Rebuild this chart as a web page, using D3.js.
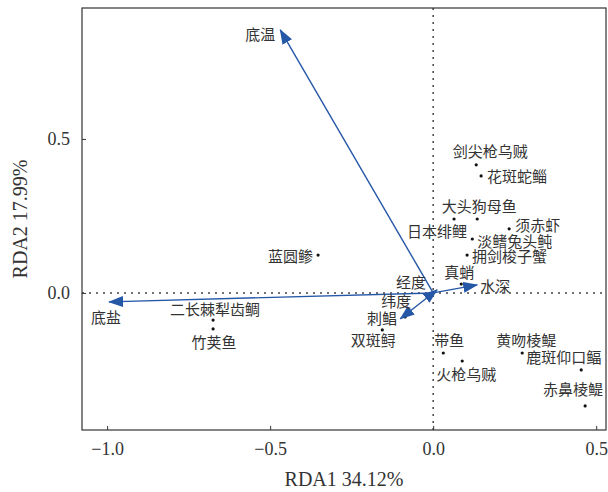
<!DOCTYPE html>
<html>
<head>
<meta charset="utf-8">
<script src="https://cdn.jsdelivr.net/npm/d3@7"></script>
<style>
  body { margin: 0; background: #fff; }
  text { font-family: "Liberation Serif", "Noto Sans CJK SC", serif; }
</style>
</head>
<body>
<svg id="chart" width="608" height="492"></svg>
<script>
// environmental variables (arrows)
const envNames = ["底温", "底盐", "水深", "经度", "纬度"];
const envX = [-0.469, -0.994, 0.135, 0.012, -0.101];
const envY = [0.854, -0.029, 0.026, 0.010, -0.084];

// species scores (points)
const spNames = ["剑尖枪乌贼", "花斑蛇鲻", "大头狗母鱼", "日本绯鲤", "须赤虾", "淡鳍兔头鲀",
  "拥剑梭子蟹", "真蛸", "蓝圆鲹", "二长棘犁齿鲷", "竹荚鱼", "刺鲳", "双斑鲟",
  "带鱼", "火枪乌贼", "黄吻棱鳀", "鹿斑仰口鲾", "赤鼻棱鳀"];
const spX = [0.132, 0.147, 0.135, 0.064, 0.233, 0.120, 0.104, 0.086, -0.353, -0.675,
  -0.675, -0.086, -0.156, 0.031, 0.089, 0.273, 0.454, 0.466];
const spY = [0.416, 0.380, 0.240, 0.240, 0.208, 0.175, 0.123, 0.029, 0.123, -0.088,
  -0.117, -0.078, -0.120, -0.195, -0.221, -0.195, -0.250, -0.367];

const xTicks = [-1.0, -0.5, 0.0, 0.5];
const yTicks = [0.0, 0.5];

// label placement: [dx, dy, anchor]
const envLabel = {
  "底温": [-5, 5, "end"], "底盐": [-3, 16, "middle"], "水深": [3, 2, "start"],
  "经度": [-11, -7, "end"], "纬度": [-4, -17, "middle"]
};
const spLabel = {
  "剑尖枪乌贼": [14, -13, "middle"], "花斑蛇鲻": [6, 1, "start"], "大头狗母鱼": [2, -12, "middle"],
  "日本绯鲤": [13, 13, "end"], "须赤虾": [6, -3, "start"], "淡鳍兔头鲀": [5, 3, "start"],
  "拥剑梭子蟹": [5, 2, "start"], "真蛸": [-2, -11, "middle"], "蓝圆鲹": [-5, 2, "end"],
  "二长棘犁齿鲷": [2, -10, "middle"], "竹荚鱼": [1, 14, "middle"], "刺鲳": [-8, 2, "end"],
  "双斑鲟": [-9, 11, "middle"], "带鱼": [-9, -12, "start"], "火枪乌贼": [-26, 14, "start"],
  "黄吻棱鳀": [4, -12, "middle"], "鹿斑仰口鲾": [-55, -12, "start"], "赤鼻棱鳀": [-12, -16, "middle"]
};

const svg = d3.select("#chart");
const mLeft = 82, mRight = 606, mTop = 8, mBottom = 430;
const blue = "#2557a7";

const x = d3.scaleLinear().domain([-1.077, 0.53]).range([mLeft, mRight]);
const y = d3.scaleLinear().domain([-0.445, 0.925]).range([mBottom, mTop]);

svg.append("defs").append("marker")
  .attr("id", "head")
  .attr("markerUnits", "userSpaceOnUse")
  .attr("viewBox", "0 0 15 11")
  .attr("markerWidth", 15)
  .attr("markerHeight", 11)
  .attr("refX", 14)
  .attr("refY", 5.5)
  .attr("orient", "auto")
  .append("path")
  .attr("d", "M0,0 L15,5.5 L0,11 Z")
  .attr("fill", blue);

// dotted zero lines
svg.append("line")
  .attr("x1", mLeft).attr("x2", mRight)
  .attr("y1", y(0)).attr("y2", y(0))
  .attr("stroke", "#444").attr("stroke-width", 1.5)
  .attr("stroke-dasharray", "2,5");
svg.append("line")
  .attr("x1", x(0)).attr("x2", x(0))
  .attr("y1", mTop).attr("y2", mBottom)
  .attr("stroke", "#444").attr("stroke-width", 1.5)
  .attr("stroke-dasharray", "2,5");

// axes with inward ticks
const xAxis = svg.append("g")
  .attr("transform", `translate(0,${mBottom})`)
  .call(d3.axisBottom(x).tickValues(xTicks).tickSizeInner(-4).tickSizeOuter(0)
    .tickPadding(12).tickFormat(d => d3.format(".1f")(d).replace("-", "\u2212")));
const yAxis = svg.append("g")
  .attr("transform", `translate(${mLeft},0)`)
  .call(d3.axisLeft(y).tickValues(yTicks).tickSizeInner(-4).tickSizeOuter(0)
    .tickPadding(12).tickFormat(d3.format(".1f")));
[xAxis, yAxis].forEach(a => {
  a.select(".domain").remove();
  a.selectAll(".tick line").attr("stroke", "#333");
  a.selectAll(".tick text")
    .attr("fill", "#333")
    .style("font-size", "18px")
    .style("font-family", "'Liberation Serif', serif");
});

svg.append("rect")
  .attr("x", mLeft).attr("y", mTop)
  .attr("width", mRight - mLeft).attr("height", mBottom - mTop)
  .attr("fill", "none").attr("stroke", "#333").attr("stroke-width", 1.2);

// species points
const sp = spNames.map((n, i) => ({ name: n, x: spX[i], y: spY[i] }));
svg.selectAll(".sp").data(sp).enter().append("circle")
  .attr("cx", d => x(d.x)).attr("cy", d => y(d.y))
  .attr("r", 1.6).attr("fill", "#111");
svg.selectAll(".spl").data(sp).enter().append("text")
  .attr("x", d => x(d.x) + spLabel[d.name][0])
  .attr("y", d => y(d.y) + spLabel[d.name][1])
  .attr("text-anchor", d => spLabel[d.name][2])
  .attr("dominant-baseline", "central")
  .attr("fill", "#333")
  .style("font-size", "15px")
  .text(d => d.name);

// environment arrows
const env = envNames.map((n, i) => ({ name: n, x: envX[i], y: envY[i] }));
svg.selectAll(".env").data(env).enter().append("line")
  .attr("x1", x(0)).attr("y1", y(0))
  .attr("x2", d => x(d.x)).attr("y2", d => y(d.y))
  .attr("stroke", blue).attr("stroke-width", 1.4)
  .attr("marker-end", "url(#head)");
svg.selectAll(".envl").data(env).enter().append("text")
  .attr("x", d => x(d.x) + envLabel[d.name][0])
  .attr("y", d => y(d.y) + envLabel[d.name][1])
  .attr("text-anchor", d => envLabel[d.name][2])
  .attr("dominant-baseline", "central")
  .attr("fill", "#333")
  .style("font-size", "15px")
  .text(d => d.name);

// axis titles
svg.append("text")
  .attr("x", (mLeft + mRight) / 2).attr("y", 486)
  .attr("text-anchor", "middle")
  .attr("fill", "#333")
  .style("font-size", "20px")
  .text("RDA1 34.12%");
svg.append("text")
  .attr("transform", `translate(27,${(mTop + mBottom) / 2}) rotate(-90)`)
  .attr("text-anchor", "middle")
  .attr("fill", "#333")
  .style("font-size", "20px")
  .text("RDA2 17.99%");
</script>
</body>
</html>
